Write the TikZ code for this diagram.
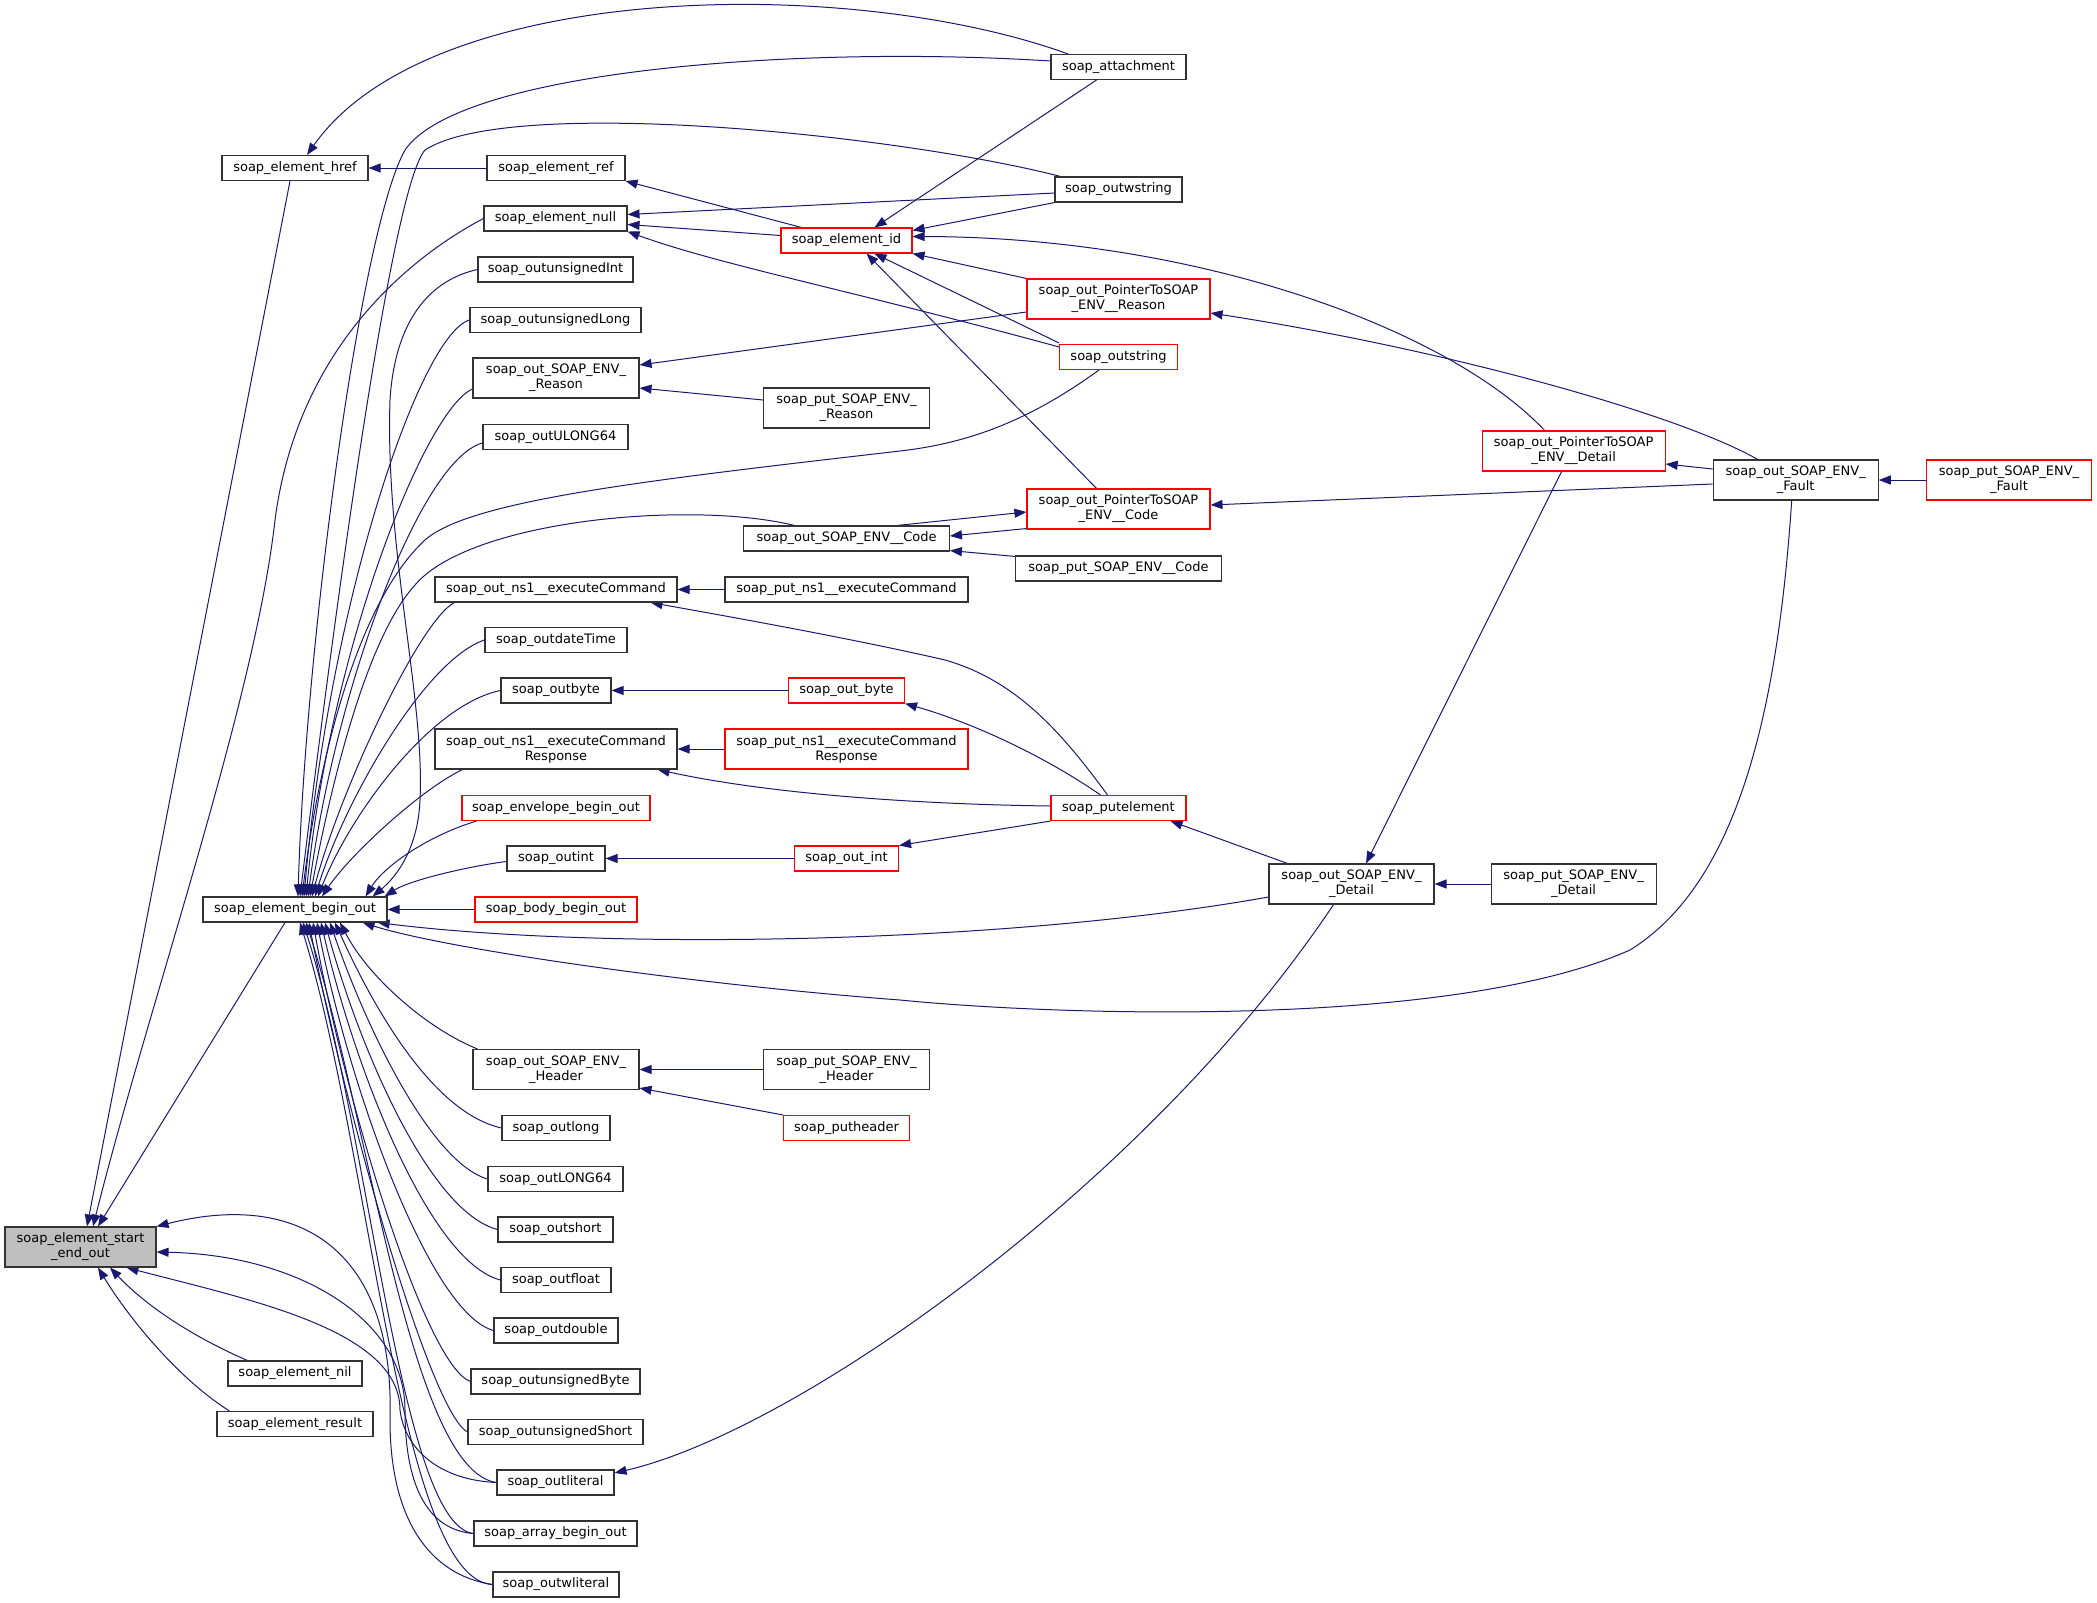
\documentclass[tikz,border=0pt]{standalone}
\usepackage{fontspec}
\setmainfont{DejaVu Sans}
\usetikzlibrary{arrows.meta,calc,backgrounds}
\definecolor{edgecol}{HTML}{191970}
\begin{document}
\begin{tikzpicture}[x=1pt,y=-1pt,
 box/.style={draw=black!80,line width=1.1pt,fill=white,minimum height=25pt,inner sep=0pt,align=center,font=\fontsize{13}{15}\selectfont},
 rbox/.style={box,draw=red},
 tall/.style={minimum height=40pt},
 conn/.style={draw=edgecol,line width=1pt,-{Triangle[length=12pt,width=9pt]}}]
\useasboundingbox (0,0) rectangle (2097,1603);
% column 1-2
\node[box,tall,minimum width=151pt,fill=black!25] (seo) at (80.5,1247) {soap\_element\_start\\\_end\_out};
\node[box,minimum width=146pt] (href) at (295,168) {soap\_element\_href};
\node[box,minimum width=184pt] (bo) at (295,909.5) {soap\_element\_begin\_out};
\node[box,minimum width=134pt] (nil) at (295,1373.5) {soap\_element\_nil};
\node[box,minimum width=156pt] (result) at (295,1424) {soap\_element\_result};
% column 3
\node[box,minimum width=138pt] (ref) at (556,168) {soap\_element\_ref};
\node[box,minimum width=143pt] (null) at (555.5,218.5) {soap\_element\_null};
\node[box,minimum width=155pt] (uint) at (555.5,269.5) {soap\_outunsignedInt};
\node[box,minimum width=171pt] (ulong) at (555.5,320) {soap\_outunsignedLong};
\node[box,tall,minimum width=166pt] (reason) at (556,378) {soap\_out\_SOAP\_ENV\_\\\_Reason};
\node[box,minimum width=145pt] (ulong64) at (555.5,437) {soap\_outULONG64};
\node[box,minimum width=242pt] (exec) at (556,589.5) {soap\_out\_ns1\_\_executeCommand};
\node[box,minimum width=142pt] (dt) at (556,640) {soap\_outdateTime};
\node[box,minimum width=110pt] (obyte) at (556,690.5) {soap\_outbyte};
\node[box,tall,minimum width=242pt] (resp) at (556,749) {soap\_out\_ns1\_\_executeCommand\\Response};
\node[rbox,minimum width=188pt] (env) at (556,808) {soap\_envelope\_begin\_out};
\node[box,minimum width=98pt] (oint) at (556,858.5) {soap\_outint};
\node[rbox,minimum width=162pt] (body) at (556,909.5) {soap\_body\_begin\_out};
\node[box,tall,minimum width=166pt] (hdr) at (556,1069.5) {soap\_out\_SOAP\_ENV\_\\\_Header};
\node[box,minimum width=108pt] (olong) at (556,1128) {soap\_outlong};
\node[box,minimum width=135pt] (l64) at (555.5,1179) {soap\_outLONG64};
\node[box,minimum width=115pt] (oshort) at (555.5,1229.5) {soap\_outshort};
\node[box,minimum width=110pt] (ofloat) at (556,1280) {soap\_outfloat};
\node[box,minimum width=124pt] (odouble) at (556,1330.5) {soap\_outdouble};
\node[box,minimum width=169pt] (ubyte) at (555.5,1381.5) {soap\_outunsignedByte};
\node[box,minimum width=175pt] (ushort) at (555.5,1432) {soap\_outunsignedShort};
\node[box,minimum width=117pt] (olit) at (555.5,1482.5) {soap\_outliteral};
\node[box,minimum width=163pt] (arr) at (555.5,1533.5) {soap\_array\_begin\_out};
\node[box,minimum width=126pt] (owlit) at (556,1584.5) {soap\_outwliteral};
% column 4
\node[rbox,minimum width=131pt] (eid) at (846.5,240.5) {soap\_element\_id};
\node[box,tall,minimum width=166pt] (putreason) at (846.5,408) {soap\_put\_SOAP\_ENV\_\\\_Reason};
\node[box,minimum width=205.6pt] (code) at (846.6,538.5) {soap\_out\_SOAP\_ENV\_\_Code};
\node[box,minimum width=243pt] (putexec) at (846.5,589.5) {soap\_put\_ns1\_\_executeCommand};
\node[rbox,minimum width=116pt] (ob2) at (846.5,690.5) {soap\_out\_byte};
\node[rbox,tall,minimum width=243pt] (putresp) at (846.5,749) {soap\_put\_ns1\_\_executeCommand\\Response};
\node[rbox,minimum width=104pt] (oi2) at (846.5,858.5) {soap\_out\_int};
\node[box,tall,minimum width=166pt] (puthdr) at (846.5,1069.5) {soap\_put\_SOAP\_ENV\_\\\_Header};
\node[rbox,minimum width=126pt] (phd) at (846.5,1128) {soap\_putheader};
% column 5
\node[box,minimum width=135pt] (att) at (1118.5,67) {soap\_attachment};
\node[box,minimum width=127pt] (owstr) at (1118.5,189.5) {soap\_outwstring};
\node[rbox,tall,minimum width=183pt] (pr) at (1118.5,299) {soap\_out\_PointerToSOAP\\\_ENV\_\_Reason};
\node[rbox,minimum width=118pt] (ostr) at (1118.5,357) {soap\_outstring};
\node[rbox,tall,minimum width=183pt] (pc) at (1118.5,509) {soap\_out\_PointerToSOAP\\\_ENV\_\_Code};
\node[box,minimum width=205.5pt] (pcode) at (1118.5,568.5) {soap\_put\_SOAP\_ENV\_\_Code};
\node[rbox,minimum width=135pt] (pe) at (1118.5,808) {soap\_putelement};
% columns 6-9
\node[box,tall,minimum width=165pt] (det) at (1351.5,884) {soap\_out\_SOAP\_ENV\_\\\_Detail};
\node[rbox,tall,minimum width=183pt] (pd) at (1573.6,451) {soap\_out\_PointerToSOAP\\\_ENV\_\_Detail};
\node[box,tall,minimum width=165pt] (pdet) at (1573.6,884) {soap\_put\_SOAP\_ENV\_\\\_Detail};
\node[box,tall,minimum width=165pt] (fault) at (1795.7,480) {soap\_out\_SOAP\_ENV\_\\\_Fault};
\node[rbox,tall,minimum width=165pt] (pf) at (2009,480) {soap\_put\_SOAP\_ENV\_\\\_Fault};

\begin{scope}[on background layer]
\fill[white] (0,0) rectangle (2097,1603);
% into start_end_out
\draw[conn] ($(href.south)+(-5,0)$) -- ($(seo.north)+(6.5,0)$);
\draw[conn] (null.west) .. controls (433,245) and (300,330) .. (275,520) .. controls (255,700) and (150,1000) .. ($(seo.north)+(12.5,0)$);
\draw[conn] ($(bo.south)+(-10,0)$) -- ($(seo.north)+(17.5,0)$);
\draw[conn] ($(nil.north west)+(20,0)$) .. controls (200,1340) and (150,1310) .. ($(seo.south)+(29.5,0)$);
\draw[conn] ($(result.north west)+(13,0)$) .. controls (180,1380) and (130,1320) .. ($(seo.south)+(17.5,0)$);
\draw[conn] (owlit.west) .. controls (430,1575) and (390,1520) .. (390,1420) .. controls (395,1250) and (300,1190) .. (seo.north east);
\draw[conn] (arr.west) .. controls (430,1530) and (405,1490) .. (405,1410) .. controls (405,1320) and (300,1255) .. ($(seo.east)+(0,5)$);
\draw[conn] (olit.west) .. controls (440,1480) and (405,1450) .. (400,1410) .. controls (400,1330) and (250,1300) .. ($(seo.south)+(46,0)$);
% into href
\draw[conn] (ref.west) -- (href.east);
\draw[conn] ($(att.north)+(-50.5,0)$) .. controls (850,-25) and (430,-20) .. ($(href.north)+(12,0)$);
% into begin_out (top)
\draw[conn] ($(att.west)+(0,-6)$) .. controls (800,45) and (460,70) .. (405,150) .. controls (360,230) and (305,650) .. ($(bo.north)+(3,0)$);
\draw[conn] ($(owstr.north west)+(6,0)$) .. controls (900,135) and (510,95) .. (425,150) .. controls (390,190) and (330,650) .. ($(bo.north)+(5,0)$);
\draw[conn] ($(ostr.south west)+(40,0)$) .. controls (1030,420) and (970,443) .. (900,451) .. controls (650,480) and (470,500) .. (425,540) .. controls (360,600) and (320,750) .. ($(bo.north)+(7,0)$);
\draw[conn] (ulong.west) .. controls (420,335) and (330,600) .. ($(bo.north)+(9,0)$);
\draw[conn] (uint.west) .. controls (430,280) and (395,320) .. (390,400) .. controls (385,550) and (425,700) .. (420,800) .. controls (418,850) and (395,878) .. ($(bo.north east)+(-15,0)$);
\draw[conn] ($(reason.west)+(0,11)$) .. controls (425,410) and (330,650) .. ($(bo.north)+(11,0)$);
\draw[conn] ($(ulong64.west)+(0,6)$) .. controls (420,460) and (335,690) .. ($(bo.north)+(13,0)$);
\draw[conn] ($(code.north)+(-52,0)$) .. controls (690,500) and (470,520) .. (415,585) .. controls (365,640) and (330,790) .. ($(bo.north)+(15,0)$);
\draw[conn] ($(exec.south west)+(20,0)$) .. controls (420,620) and (340,790) .. ($(bo.north)+(17,0)$);
\draw[conn] (dt.west) .. controls (425,660) and (345,800) .. ($(bo.north)+(20,0)$);
\draw[conn] (obyte.west) .. controls (430,705) and (350,815) .. ($(bo.north)+(23,0)$);
\draw[conn] ($(resp.south west)+(28,0)$) .. controls (420,790) and (350,855) .. ($(bo.north)+(27,0)$);
\draw[conn] ($(env.south west)+(15,0)$) .. controls (430,835) and (385,865) .. ($(bo.north east)+(-22,0)$);
\draw[conn] ($(oint.west)+(0,3)$) .. controls (470,866) and (410,880) .. ($(bo.north east)+(-3,0)$);
\draw[conn] (body.west) -- (bo.east);
% into begin_out (bottom)
\draw[conn] ($(hdr.north west)+(5,0)$) .. controls (430,1030) and (370,980) .. ($(bo.south)+(45,0)$);
\draw[conn] (olong.west) .. controls (430,1112) and (370,1000) .. ($(bo.south)+(40,0)$);
\draw[conn] (l64.west) .. controls (430,1162) and (365,1025) .. ($(bo.south)+(35,0)$);
\draw[conn] (oshort.west) .. controls (430,1212) and (360,1050) .. ($(bo.south)+(30,0)$);
\draw[conn] (ofloat.west) .. controls (430,1262) and (355,1070) .. ($(bo.south)+(26,0)$);
\draw[conn] (odouble.west) .. controls (430,1313) and (350,1090) .. ($(bo.south)+(22,0)$);
\draw[conn] (ubyte.west) .. controls (425,1365) and (345,1100) .. ($(bo.south)+(18,0)$);
\draw[conn] (ushort.west) .. controls (430,1412) and (345,1110) .. ($(bo.south)+(14,0)$);
\draw[conn] (olit.west) .. controls (410,1470) and (370,1120) .. ($(bo.south)+(11,0)$);
\draw[conn] (arr.west) .. controls (400,1525) and (370,1130) .. ($(bo.south)+(8,0)$);
\draw[conn] (owlit.west) .. controls (400,1580) and (370,1150) .. ($(bo.south)+(5,0)$);
\draw[conn] ($(det.west)+(0,13)$) .. controls (1000,945) and (600,950) .. ($(bo.south east)+(-10,0)$);
\draw[conn] ($(fault.south)+(-4,0)$) .. controls (1777,720) and (1735,885) .. (1630,950) .. controls (1450,1030) and (1050,1015) .. (900,1000) .. controls (700,985) and (450,950) .. ($(bo.south east)+(-25,0)$);
% column 3 targets
\draw[conn] ($(eid.north west)+(21,0)$) -- (ref.south east);
\draw[conn] ($(owstr.west)+(0,3.5)$) -- ($(null.east)+(0,-4)$);
\draw[conn] ($(eid.west)+(0,-5)$) -- ($(null.east)+(0,6)$);
\draw[conn] ($(ostr.north west)+(0,3)$) .. controls (850,290) and (720,265) .. (null.south east);
\draw[conn] ($(pr.west)+(0,13)$) -- ($(reason.east)+(0,-13)$);
\draw[conn] ($(putreason.west)+(0,-8)$) -- ($(reason.east)+(0,10)$);
\draw[conn] (putexec.west) -- (exec.east);
\draw[conn] ($(pe.north)+(-11,0)$) .. controls (1060,730) and (1015,680) .. (945,660) .. controls (850,638) and (720,615) .. ($(exec.south east)+(-27,0)$);
\draw[conn] (ob2.west) -- (obyte.east);
\draw[conn] (putresp.west) -- (resp.east);
\draw[conn] ($(pe.west)+(0,-2)$) .. controls (900,804) and (760,792) .. ($(resp.south east)+(-20,0)$);
\draw[conn] (oi2.west) -- (oint.east);
\draw[conn] (puthdr.west) -- (hdr.east);
\draw[conn] (phd.north west) -- ($(hdr.south east)+(0,-2)$);
\draw[conn] ($(det.south)+(-18,0)$) .. controls (1150,1180) and (800,1430) .. ($(olit.east)+(0,-9.5)$);
% column 4 targets
\draw[conn] ($(att.south)+(-22,0)$) -- ($(eid.north)+(28,0)$);
\draw[conn] (owstr.south west) -- ($(eid.north east)+(0,3)$);
\draw[conn] ($(pd.north)+(-29,0)$) .. controls (1450,330) and (1200,237) .. ($(eid.east)+(0,-4)$);
\draw[conn] (pr.north west) -- (eid.south east);
\draw[conn] ($(ostr.north west)+(0,-1)$) -- ($(eid.south)+(28,0)$);
\draw[conn] ($(pc.north)+(-22,0)$) -- ($(eid.south)+(20,0)$);
\draw[conn] ($(pc.south west)+(0,-1)$) -- ($(code.east)+(0,-2.5)$);
\draw[conn] ($(pcode.north west)+(0,1)$) -- ($(code.south east)+(0,-1)$);
\draw[conn] ($(pe.north)+(-18,0)$) .. controls (1050,760) and (980,725) .. (ob2.south east);
\draw[conn] (pe.south west) -- (oi2.north east);
% column 5 targets
\draw[conn] ($(code.north east)+(-53,0)$) -- ($(pc.west)+(0,3)$);
\draw[conn] ($(fault.north)+(-38,0)$) .. controls (1680,415) and (1450,350) .. ($(pr.east)+(0,14)$);
\draw[conn] ($(fault.west)+(0,4)$) -- ($(pc.east)+(0,-4)$);
\draw[conn] ($(det.north west)+(19,0)$) -- ($(pe.south east)+(-16,0)$);
% right part
\draw[conn] ($(pd.south)+(-12,0)$) -- ($(det.north)+(14.5,0)$);
\draw[conn] (pdet.west) -- (det.east);
\draw[conn] ($(fault.west)+(0,-11)$) -- ($(pd.east)+(0,13)$);
\draw[conn] (pf.west) -- (fault.east);
\end{scope}
\end{tikzpicture}
\end{document}
